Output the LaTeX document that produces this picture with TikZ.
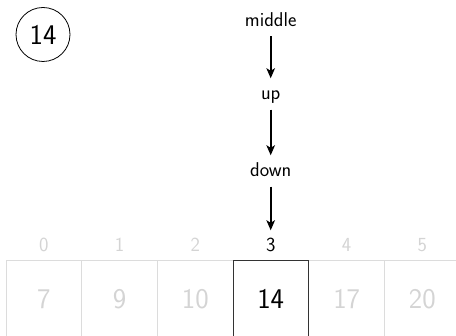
\documentclass[tikz,border=0pt]{standalone}
\usetikzlibrary{arrows.meta}
\definecolor{lightg}{HTML}{D4D4D4}
\definecolor{cellg}{HTML}{DCDCDC}
\begin{document}
\begin{tikzpicture}[x=1pt,y=-1pt,
  lbl/.style={font=\sffamily\fontsize{20}{24}\selectfont, inner sep=0pt, text height=14pt, text depth=5pt, anchor=base},
  idx/.style={lbl, text=lightg},
  num/.style={font=\sffamily\fontsize{28.5}{32}\selectfont, text=lightg},
  cell/.style={draw=cellg, line width=1pt},
  hcell/.style={draw=black!80, line width=1pt},
  arr/.style={-{Stealth[length=10pt,width=8.5pt,inset=2.5pt]}, line width=1.7pt, shorten <=4.5pt, shorten >=7.5pt}]
\useasboundingbox (0,0) rectangle (456,336);
\clip (0,0) rectangle (456,336);
\node[draw, circle, line width=0.8pt, minimum size=54pt, inner sep=0pt, font=\sffamily\fontsize{28.5}{32}\selectfont] (c) at (43,34.5) {14};
\node[lbl] (m) at (270.7,26.5) {middle};
\node[lbl] (u) at (270.7,100) {up};
\node[lbl] (d) at (270.7,177) {down};
\foreach \i/\v in {0/7,1/9,2/10,4/17,5/20}{
  \draw[cell] (6+75.7*\i,261) rectangle (6+75.7*\i+75.7,336.7);
  \node[idx] (i\i) at (6+75.7*\i+37.85,252) {\i};
  \node[num] (n\i) at (6+75.7*\i+37.85,299) {\v};
}
\draw[hcell] (6+75.7*3,261) rectangle (6+75.7*4,336.7);
\node[lbl] (i3) at (270.7,252) {3};
\node[num, text=black] (n3) at (270.7,299) {14};
\draw[arr] (m.south) -- (u.north);
\draw[arr] (u.south) -- (d.north);
\draw[arr] (d.south) -- (i3.north);
\end{tikzpicture}
\end{document}
